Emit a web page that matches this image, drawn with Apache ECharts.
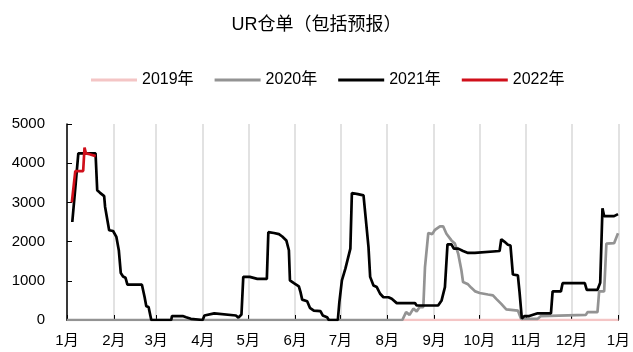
<!DOCTYPE html>
<html>
<head>
<meta charset="utf-8">
<script src="https://cdn.jsdelivr.net/npm/echarts@6/dist/echarts.min.js"></script>
<style>
  html, body { margin: 0; padding: 0; background: #fff; }
  #chart { width: 633px; height: 352px; }
</style>
</head>
<body>
<div id="chart"></div>
<script>
// Month boundaries as day-of-year offsets, and their labels
const monthStarts = [0, 31, 59, 90, 120, 151, 181, 212, 243, 273, 304, 334, 365];
const monthLabels = ['1月', '2月', '3月', '4月', '5月', '6月', '7月', '8月', '9月', '10月', '11月', '12月', '1月'];

const yTicks = [0, 1000, 2000, 3000, 4000, 5000];

// 2019: listing started in August, no warehouse receipts
const day2019 = [222, 365];
const stock2019 = [0, 0];

// 2020
const day2020 = [0, 222, 224.5, 226.8, 229.3, 231.5, 233.5, 235.9, 237, 238, 239.2, 241.8, 243.6, 246.9, 249,
  251.2, 254.5, 256.8, 259, 261.1, 262.2, 265.5, 267.7, 270.3, 273.2, 278.7, 282, 284.2, 287.5, 290.8,
  298.5, 300.6, 311.6, 313.8, 343.5, 344.6, 351.2, 352.3, 355.6, 357.1, 362.2, 364.8];
const stock2020 = [0, 0, 200, 130, 290, 220, 330, 330, 1350, 1390, 2220, 2190, 2300, 2390, 2390,
  2200, 2030, 1950, 1690, 1270, 970, 910, 820, 730, 690, 650, 630, 540, 410, 270,
  240, 30, 30, 100, 130, 200, 200, 730, 730, 1950, 1960, 2210];

// 2021
const day2021 = [3.5, 4.8, 5.8, 7.5, 18.9, 20, 21.7, 24.6, 25.2, 26.2, 27.9, 30.5, 32.7, 34.3, 35.6, 37.1, 38.7,
  40, 49.6, 51.4, 52.5, 54, 55.8, 69, 69.5, 76.6, 78.9, 82, 83, 89.8, 91, 97.5, 98.6, 111.8, 113.5, 115.5,
  116.3, 116.7, 121, 126, 132.3, 133.3, 137, 140.3, 142.5, 145.2, 146.9, 147.6, 150.2, 153.5, 154.6, 155.7,
  159, 160.8, 163.4, 167.8, 169.3, 172.2, 173.3, 179.3, 180.3, 182, 184.3, 187.6, 188.6, 192.6, 196.3,
  197.5, 199.6, 200.7, 202.9, 205.1, 207.3, 209.5, 212.8, 215, 218.3, 230.4, 231.5, 245.7, 248, 250.2,
  251.9, 254.5, 256.1, 259, 262.2, 265.5, 270, 271, 286.4, 287.5, 289.5, 291.9, 293.6, 295.2, 298.5,
  299.6, 301.1, 302.9, 306, 307.2, 311.6, 320.4, 321.5, 327, 328.1, 342.8, 344.1, 351.2, 353, 354.5,
  355.6, 362.2, 364.8];
const stock2021 = [2500, 2500, 3500, 4250, 4250, 3310, 3250, 3160, 2890, 2840, 2290, 2270, 2120, 1780, 1200, 1110, 1080,
  900, 900, 580, 350, 330, 0, 0, 100, 100, 70, 30, 0, 0, 115, 170, 160, 115, 60, 140,
  160, 1100, 1100, 1050, 1050, 2240, 2220, 2190, 2130, 2030, 1780, 1010, 940, 860, 710, 520,
  480, 310, 240, 225, 115, 70, 0, 0, 450, 1010, 1310, 1820, 3240, 3210, 3180,
  3140, 1860, 1100, 880, 840, 670, 580, 580, 540, 430, 430, 370, 370, 500, 840,
  1930, 1930, 1820, 1820, 1760, 1710, 1710, 1760, 1760, 2060, 2000, 1920, 1900, 1160, 1140,
  710, 40, 100, 100, 140, 170, 170, 730, 730, 940, 940, 770, 770, 950, 2850,
  2650, 2650, 2700];

// 2022
const day2022 = [3.2, 4, 5.5, 10.7, 11.6, 12.5, 15, 19];
const stock2022 = [3000, 3000, 3800, 3800, 4400, 4250, 4230, 4180];

const years = ['2019年', '2020年', '2021年', '2022年'];
const colors = ['#f4c5c5', '#939393', '#000000', '#d00f1a'];
const dayLists = [day2019, day2020, day2021, day2022];
const stockLists = [stock2019, stock2020, stock2021, stock2022];

const pair = (days, vals) => days.map((d, i) => [d, vals[i]]);
const font = '"Liberation Sans", "Noto Sans CJK SC", sans-serif';

const chart = echarts.init(document.getElementById('chart'));
chart.setOption({
  animation: false,
  backgroundColor: '#fff',
  color: colors,
  textStyle: { fontFamily: font },
  title: {
    text: 'UR仓单（包括预报）',
    left: 'center',
    top: 11,
    textStyle: { fontSize: 18, fontWeight: 'normal', color: '#000', fontFamily: font }
  },
  legend: {
    left: 86,
    top: 67,
    icon: 'rect',
    itemWidth: 46,
    itemHeight: 3,
    itemGap: 21,
    textStyle: { fontSize: 16, color: '#000', fontFamily: font },
    data: years
  },
  grid: { left: 67, right: 12, top: 124, bottom: 32, containLabel: false },
  xAxis: {
    type: 'value',
    min: 0,
    max: 365,
    axisLine: { show: true, lineStyle: { color: '#000', width: 1 } },
    axisTick: {
      show: true, inside: true, length: 5, customValues: monthStarts,
      lineStyle: { color: '#000', width: 1 }
    },
    splitLine: { show: true, lineStyle: { color: '#d9d9d9', width: 1.5 } },
    axisLabel: {
      customValues: monthStarts,
      margin: 13,
      fontSize: 15,
      color: '#000',
      formatter: v => monthLabels[monthStarts.indexOf(v)]
    }
  },
  yAxis: {
    type: 'value',
    min: 0,
    max: 5000,
    interval: 1000,
    axisLine: { show: true, lineStyle: { color: '#000', width: 1.5 } },
    axisTick: { show: true, inside: true, length: 5, lineStyle: { color: '#000' } },
    splitLine: { show: false },
    axisLabel: {
      margin: 22,
      fontSize: 15,
      color: '#000',
      formatter: v => (yTicks.indexOf(v) >= 0 ? String(v) : '')
    }
  },
  series: years.map((name, i) => ({
    name,
    type: 'line',
    symbol: 'none',
    data: pair(dayLists[i], stockLists[i]),
    lineStyle: { color: colors[i], width: 2.7 },
    itemStyle: { color: colors[i] },
    z: 2 + i
  }))
});
</script>
</body>
</html>
